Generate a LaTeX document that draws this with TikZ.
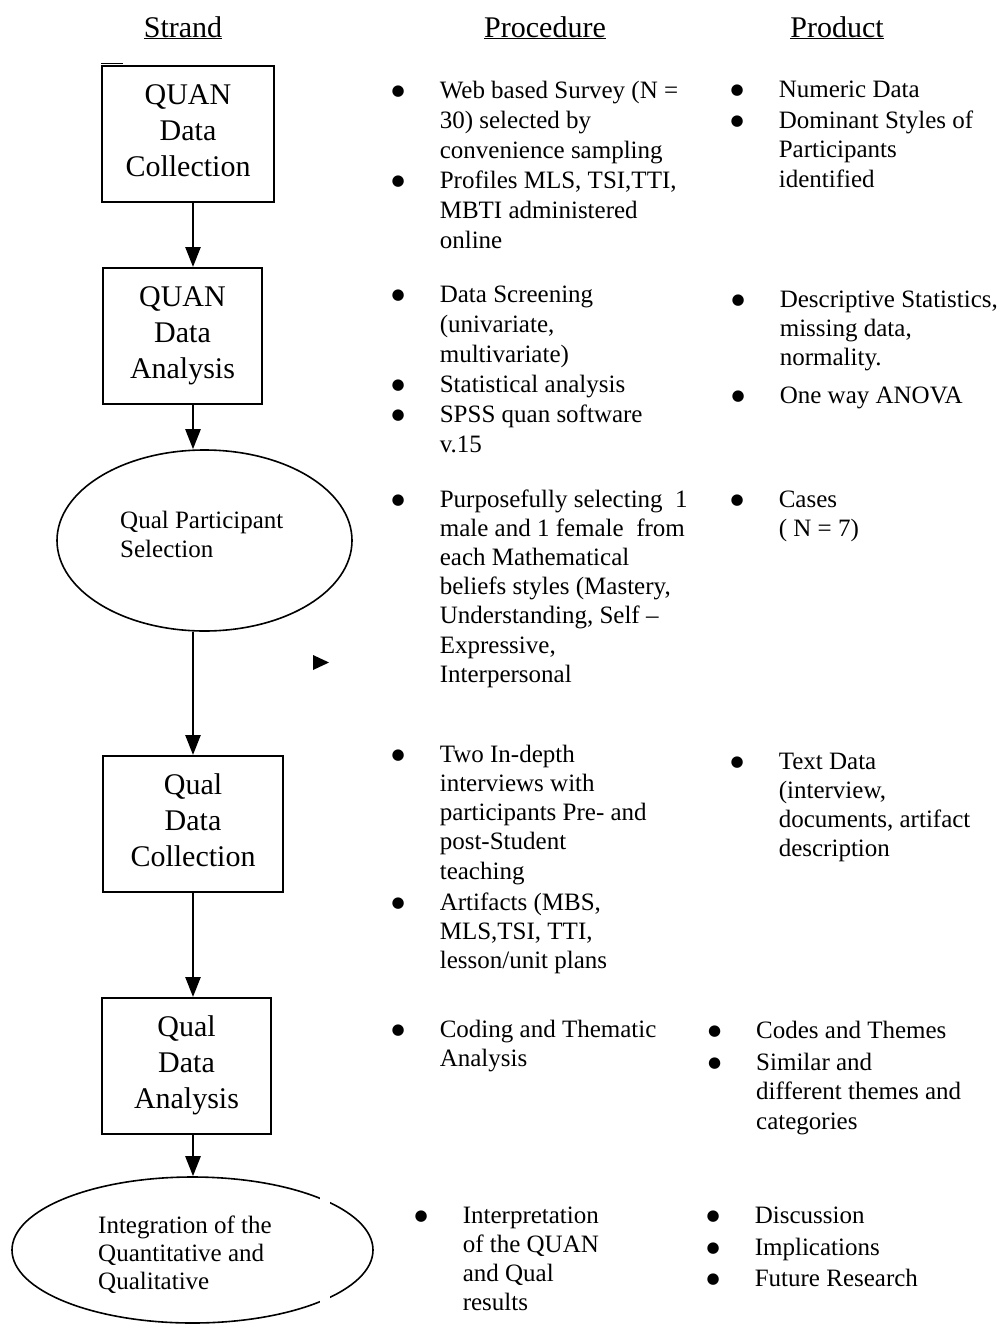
\documentclass[tikz,border=0pt]{standalone}
\usepackage{fontspec}
\setmainfont{Liberation Serif}
\newfontfamily\symfont{DejaVu Sans}
\usetikzlibrary{arrows.meta,shapes.geometric}
\newcommand{\cellblock}[1]{\begin{minipage}[t]{330pt}#1\end{minipage}}
\newcommand{\bigbullet}{\makebox[8.75pt][c]{\raisebox{2.5pt}{\symfont\fontsize{15}{0}\selectfont ●}}}
\newcommand{\bulblock}[1]{\cellblock{\hangindent=46pt\hangafter=1\noindent\makebox[46pt][l]{\bigbullet}#1}}
\begin{document}
\begin{tikzpicture}
[x=1pt, y=-1pt,
 stage/.style={draw, line width=2pt, minimum height=136pt, align=center, inner sep=0pt,
   text depth=7pt, font=\fontsize{30}{36}\selectfont},
 oval/.style={draw, ellipse, line width=1.6pt, inner sep=0pt},
 head/.style={anchor=base, inner sep=0pt, font=\fontsize{30}{36}\selectfont},
 bitem/.style={anchor=base west, inner sep=0pt, font=\fontsize{25}{#1}\selectfont},
 bitem/.default=30,
 flow/.style={line width=2.5pt, -{Triangle[length=20pt,width=15pt]}}]
\useasboundingbox (0,0) rectangle (1003,1333);

\node (hstrand) [head] at (183,37) {\underline{Strand}};
\node (hproc) [head] at (545,37) {\underline{Procedure}};
\node (hprod) [head] at (837,37) {\underline{Product}};

\coordinate (axis) at (193,0);
\node (quancol) [stage, minimum width=172pt] at (188,134) {QUAN\\Data\\Collection};
\node (quanana) [stage, minimum width=159pt] at (182.5,336) {QUAN\\Data\\Analysis};
\node (sel) [oval, minimum width=295pt, minimum height=181pt] at (204.5,540.5) {};
\node (qualcol) [stage, minimum width=180pt] at (193,824) {Qual\\Data\\Collection};
\node (qualana) [stage, minimum width=169pt] at (186.5,1066) {Qual\\Data\\Analysis};
\node (integ) [oval, minimum width=361pt, minimum height=146pt] at (192.5,1250) {};
\node (selt) [bitem=29] at (120,528) {\cellblock{Qual Participant\\Selection}};
\node (integt) [bitem=28] at (98,1233) {\cellblock{Integration of the\\Quantitative and\\Qualitative}};

\draw[flow] (quancol.south -| axis) -- (quanana.north -| axis);
\draw[flow] (quanana.south -| axis) -- (sel.north -| axis);
\draw[flow] (sel.south -| axis) -- (qualcol.north -| axis);
\draw[flow] (qualcol.south -| axis) -- (qualana.north -| axis);
\draw[flow] (qualana.south -| axis) -- (integ.north -| axis);
\draw[line width=1.5pt] ([yshift=1.5pt]quancol.north west) -- ++(22,0);
\fill (313,655) -- (329,662.5) -- (313,670) -- cycle;
\draw[white, line width=10pt] (325,1192) -- (325,1308);

\node (proc1a) [bitem] at (393.6,98) {\bulblock{Web based Survey (N =\\30) selected by\\convenience sampling}};
\node (proc1b) [bitem] at (393.6,188) {\bulblock{Profiles MLS, TSI,TTI,\\MBTI administered\\online}};
\node (prod1a) [bitem] at (732.6,97) {\bulblock{Numeric Data}};
\node (prod1b) [bitem=29.5] at (732.6,128) {\bulblock{Dominant Styles of\\Participants\\identified}};

\node (proc2a) [bitem] at (393.6,302) {\bulblock{Data Screening\\(univariate,\\multivariate)}};
\node (proc2b) [bitem] at (393.6,392) {\bulblock{Statistical analysis}};
\node (proc2c) [bitem] at (393.6,422) {\bulblock{SPSS quan software\\v.15}};
\node (prod2a) [bitem=29] at (733.6,307) {\bulblock{Descriptive Statistics,\\missing data,\\normality.}};
\node (prod2b) [bitem] at (733.6,403) {\bulblock{One way ANOVA}};

\node (proc3a) [bitem=29.2] at (393.6,507) {\bulblock{Purposefully selecting~ 1\\male and 1 female~ from\\each Mathematical\\beliefs styles (Mastery,\\Understanding, Self –\\Expressive,\\Interpersonal}};
\node (prod3a) [bitem=29] at (732.6,507) {\bulblock{Cases\\( N = 7)}};

\node (proc4a) [bitem=29.3] at (393.6,762) {\bulblock{Two In-depth\\interviews with\\participants Pre- and\\post-Student\\teaching}};
\node (proc4b) [bitem=29] at (393.6,910) {\bulblock{Artifacts (MBS,\\MLS,TSI, TTI,\\lesson/unit plans}};
\node (prod4a) [bitem=29.3] at (732.6,769) {\bulblock{Text Data\\(interview,\\documents, artifact\\description}};

\node (proc5a) [bitem=29] at (393.6,1037) {\bulblock{Coding and Thematic\\Analysis}};
\node (prod5a) [bitem] at (710,1038) {\bulblock{Codes and Themes}};
\node (prod5b) [bitem=29.5] at (710,1070) {\bulblock{Similar and\\different themes and\\categories}};

\node (proc6a) [bitem=29] at (416.6,1223) {\bulblock{Interpretation\\of the QUAN\\and Qual\\results}};
\node (prod6a) [bitem] at (708.6,1223) {\bulblock{Discussion}};
\node (prod6b) [bitem] at (708.6,1255) {\bulblock{Implications}};
\node (prod6c) [bitem] at (708.6,1286) {\bulblock{Future Research}};
\end{tikzpicture}
\end{document}
